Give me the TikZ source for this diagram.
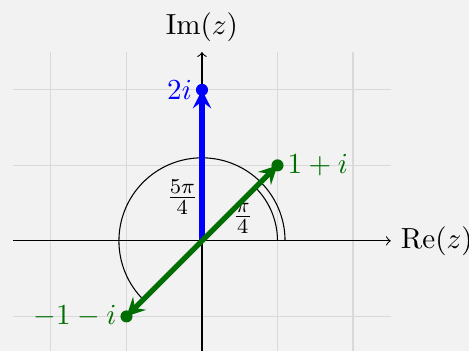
\documentclass[tikz,border=0pt,11pt]{standalone}
\usepackage{tikz}
\usetikzlibrary{arrows, positioning}
\definecolor{VecGreen}{RGB}{0, 110, 0}
\definecolor{BgGray}{RGB}{242, 242, 242}

\begin{document}
\begin{tikzpicture}[
    gridline/.style={draw=gray!30},
    axis/.style={->, >=to},
    vec/.style={-stealth, line width=2pt},
    tipdot/.style={circle, fill, inner sep=0pt, minimum size=0.16cm}
]

% Background and grid
\useasboundingbox[fill=BgGray] (-2.675,-1.457) rectangle (3.536,3.19);
\draw[gridline] (-2.5,-1.5) grid (2.5,2.5);

% Axes
\coordinate (O) at (0,0);
\coordinate (xmin) at (-2.5,0);
\coordinate (xmax) at (2.5,0);
\coordinate (ymin) at (0,-1.5);
\coordinate (ymax) at (0,2.5);
\draw[axis] (xmin) -- (xmax);
\draw[axis] (ymin) -- (ymax);
\node[right=0pt of xmax] (relab) {$\mathrm{Re}(z)$};
\node[above=0pt of ymax] (imlab) {$\mathrm{Im}(z)$};

% Angles
\draw (1.1,0) arc[start angle=0, end angle=225, radius=1.1];
\draw (1,0) arc[start angle=0, end angle=45, radius=1];
\node (bigang) at (-0.26,0.58) {$\frac{5\pi}{4}$};
\node (smallang) at (0.54,0.3) {$\frac{\pi}{4}$};

% Vectors
\coordinate (A) at (1,1);
\coordinate (B) at (0,2);
\coordinate (C) at (-1,-1);
\draw[vec, blue] (O) -- (B);
\draw[vec, VecGreen] (O) -- (A);
\draw[vec, VecGreen] (O) -- (C);
\node[tipdot, blue] (dotB) at (B) {};
\node[tipdot, VecGreen] (dotA) at (A) {};
\node[tipdot, VecGreen] (dotC) at (C) {};

% Labels
\node[left, text=blue] (labB) at (B) {$2i$};
\node[right, text=VecGreen] (labA) at (A) {$1+i$};
\node[left, text=VecGreen] (labC) at (C) {$-1-i$};

\end{tikzpicture}
\end{document}
